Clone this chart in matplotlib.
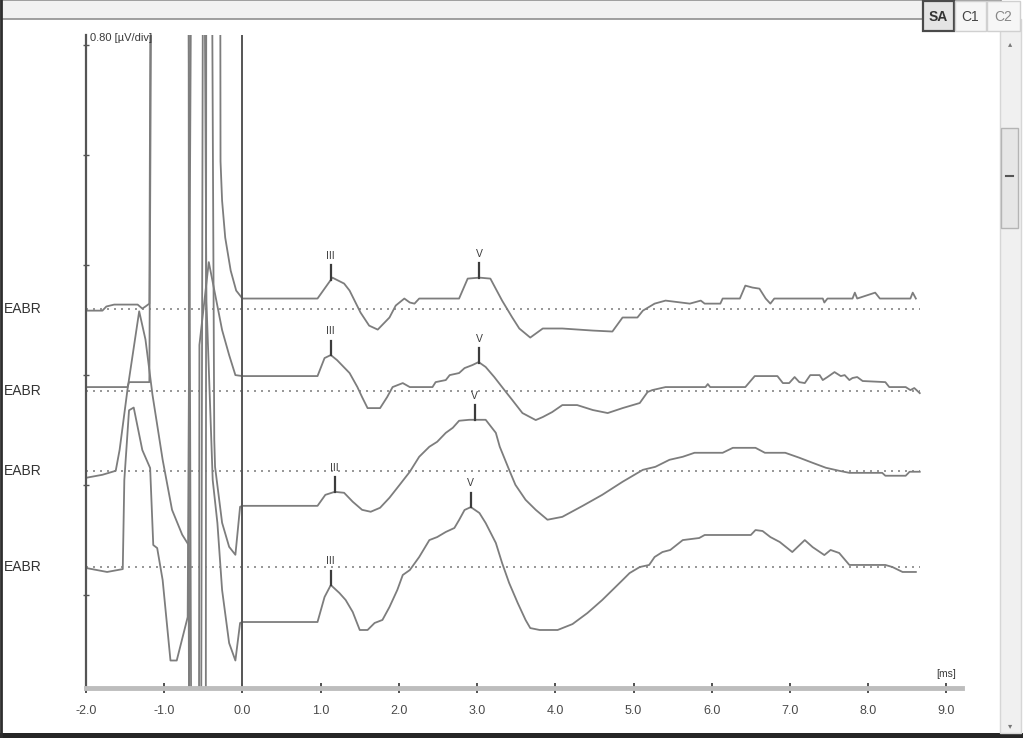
import matplotlib
matplotlib.use("Agg")
import matplotlib.pyplot as plt
import matplotlib.transforms as mtransforms
from matplotlib.patches import Rectangle
import numpy as np

plt.rcParams['font.family'] = ['Liberation Sans', 'DejaVu Sans']

# four EABR recordings; baselines in uV above the bottom of the screen
names = ["EABR", "EABR", "EABR", "EABR"]
offsets = [2.76, 2.16, 1.58, 0.88]

# stimulus artefact (-2.0 .. 0 ms), time [ms] / amplitude [uV] re baseline
# (+-5 uV runs off the screen)
art1_t = [-2.0, -1.79, -1.74, -1.64, -1.34, -1.28, -1.24, -1.19, -1.16, -0.69, -0.68, -0.47, -0.46,
          -0.29, -0.28, -0.26, -0.22, -0.15, -0.08]
art1_v = [-0.015, -0.015, 0.015, 0.029, 0.029, 0.0, 0.015, 0.036, 5, 5, -5, -5, 5,
          5, 1.07, 0.785, 0.516, 0.276, 0.131]
art2_t = [-2.0, -1.47, -1.45, -1.19, -1.15, -0.70, -0.64, -0.56, -0.55, -0.43, -0.36, -0.26, -0.17, -0.09]
art2_v = [0.029, 0.029, 0.065, 0.065, 5, 5, -5, -5, 0.335, 0.938, 0.735, 0.444, 0.262, 0.116]
art3_t = [-2.0, -1.79, -1.62, -1.57, -1.47, -1.32, -1.24, -1.15, -1.02, -0.90, -0.77, -0.69, -0.66,
          -0.54, -0.50, -0.40, -0.36, -0.35, -0.26, -0.17, -0.09, -0.03]
art3_v = [-0.051, -0.029, 0.0, 0.153, 0.589, 1.16, 0.956, 0.553, 0.080, -0.284, -0.465, -0.538, -5,
          -5, 5, 5, 0.225, 0.029, -0.378, -0.553, -0.611, -0.262]
art4_t = [-2.0, -1.73, -1.53, -1.51, -1.45, -1.39, -1.28, -1.18, -1.14, -1.09, -1.02, -0.92, -0.84,
          -0.70, -0.65, -0.49, -0.46, -0.38, -0.32, -0.26, -0.17, -0.09, -0.03]
art4_v = [-0.007, -0.036, -0.015, 0.633, 1.14, 1.16, 0.851, 0.720, 0.160, 0.138, -0.095, -0.680, -0.680,
          -0.364, 5, 5, 1.93, 0.633, 0.320, -0.167, -0.553, -0.680, -0.407]

# responses (0 .. 8.7 ms)
resp1_t = [0, 0.96, 1.15, 1.30, 1.37, 1.51, 1.62, 1.73, 1.88, 1.96, 2.07, 2.14, 2.20, 2.26, 2.77,
           2.88, 3.03, 3.17, 3.32, 3.45, 3.54, 3.68, 3.84, 4.09, 4.48, 4.73, 4.86, 5.05, 5.12, 5.27,
           5.41, 5.72, 5.86, 5.91, 6.11, 6.14, 6.36, 6.43, 6.52, 6.61, 6.69, 6.75, 6.80, 7.42, 7.44,
           7.48, 7.80, 7.83, 7.86, 8.09, 8.15, 8.54, 8.57, 8.61]
resp1_v = [0.073, 0.073, 0.225, 0.182, 0.131, -0.029, -0.124, -0.153, -0.065, 0.022, 0.073, 0.044,
           0.036, 0.073, 0.073, 0.218, 0.225, 0.218, 0.058, -0.065, -0.145, -0.211, -0.145, -0.145,
           -0.160, -0.167, -0.065, -0.065, -0.015, 0.036, 0.058, 0.036, 0.058, 0.036, 0.036, 0.073,
           0.073, 0.167, 0.153, 0.145, 0.073, 0.036, 0.073, 0.073, 0.044, 0.073, 0.073, 0.116, 0.073,
           0.116, 0.073, 0.073, 0.116, 0.073]
resp2_t = [0, 0.96, 1.05, 1.13, 1.21, 1.37, 1.47, 1.53, 1.60, 1.76, 1.85, 1.92, 2.05, 2.14, 2.43,
           2.47, 2.60, 2.65, 2.77, 2.84, 2.94, 3.02, 3.11, 3.22, 3.35, 3.45, 3.58, 3.75, 3.84, 3.96,
           4.09, 4.28, 4.48, 4.67, 4.86, 5.08, 5.18, 5.24, 5.41, 5.92, 5.95, 5.98, 6.43, 6.55, 6.84,
           6.91, 6.99, 7.06, 7.12, 7.19, 7.26, 7.38, 7.42, 7.48, 7.57, 7.65, 7.70, 7.76, 7.80, 7.86,
           7.93, 8.22, 8.27, 8.48, 8.54, 8.59, 8.66]
resp2_v = [0.109, 0.109, 0.240, 0.262, 0.225, 0.131, 0.029, -0.044, -0.124, -0.124, -0.044, 0.029,
           0.058, 0.029, 0.029, 0.065, 0.080, 0.116, 0.131, 0.167, 0.189, 0.211, 0.175, 0.102, 0.007,
           -0.065, -0.160, -0.211, -0.189, -0.153, -0.102, -0.102, -0.138, -0.160, -0.124, -0.087,
           -0.007, 0.007, 0.029, 0.029, 0.051, 0.029, 0.029, 0.109, 0.109, 0.058, 0.058, 0.102, 0.065,
           0.058, 0.116, 0.116, 0.080, 0.102, 0.138, 0.109, 0.116, 0.080, 0.095, 0.102, 0.073, 0.065,
           0.029, 0.029, 0.007, 0.022, -0.015]
resp3_t = [0, 0.96, 1.06, 1.18, 1.30, 1.41, 1.53, 1.64, 1.76, 1.88, 2.01, 2.14, 2.26, 2.39, 2.49,
           2.60, 2.69, 2.77, 2.90, 2.97, 3.11, 3.24, 3.29, 3.41, 3.49, 3.62, 3.75, 3.90, 4.09, 4.35,
           4.60, 4.86, 5.12, 5.28, 5.46, 5.63, 5.78, 6.14, 6.27, 6.56, 6.68, 6.94, 7.12, 7.29, 7.46,
           7.63, 7.76, 8.18, 8.22, 8.48, 8.53, 8.66]
resp3_v = [-0.255, -0.255, -0.175, -0.153, -0.160, -0.225, -0.284, -0.298, -0.269, -0.196, -0.102,
           -0.007, 0.102, 0.175, 0.211, 0.276, 0.313, 0.364, 0.371, 0.371, 0.371, 0.276, 0.175, 0.007,
           -0.102, -0.211, -0.284, -0.356, -0.335, -0.255, -0.175, -0.080, 0.007, 0.029, 0.080, 0.102,
           0.131, 0.131, 0.167, 0.167, 0.131, 0.131, 0.095, 0.058, 0.022, 0.0, -0.015, -0.015, -0.036,
           -0.036, -0.007, -0.007]
resp4_t = [0, 0.96, 1.05, 1.13, 1.24, 1.32, 1.41, 1.50, 1.60, 1.69, 1.79, 1.88, 1.98, 2.05, 2.14,
           2.26, 2.39, 2.49, 2.60, 2.71, 2.77, 2.84, 2.92, 3.03, 3.11, 3.24, 3.32, 3.41, 3.52, 3.62,
           3.68, 3.80, 4.03, 4.22, 4.41, 4.60, 4.86, 4.95, 5.08, 5.20, 5.27, 5.37, 5.47, 5.63, 5.84,
           5.91, 6.50, 6.56, 6.65, 6.75, 6.87, 7.03, 7.19, 7.29, 7.44, 7.52, 7.63, 7.76, 8.22, 8.31,
           8.44, 8.61]
resp4_v = [-0.400, -0.400, -0.218, -0.131, -0.189, -0.240, -0.327, -0.458, -0.458, -0.407, -0.385,
           -0.291, -0.167, -0.058, -0.022, 0.073, 0.196, 0.218, 0.255, 0.284, 0.342, 0.415, 0.436,
           0.393, 0.320, 0.175, 0.029, -0.116, -0.262, -0.385, -0.444, -0.458, -0.458, -0.415, -0.335,
           -0.240, -0.095, -0.044, 0.0, 0.015, 0.073, 0.109, 0.124, 0.196, 0.211, 0.233, 0.233, 0.269,
           0.262, 0.218, 0.182, 0.109, 0.196, 0.145, 0.087, 0.124, 0.102, 0.015, 0.015, 0.0, -0.036,
           -0.036]

# marked peaks, latency [ms]
wave3_lat = [1.13, 1.13, 1.18, 1.13]
wave5_lat = [3.03, 3.03, 2.97, 2.92]

xticks = [-2.0, -1.0, 0.0, 1.0, 2.0, 3.0, 4.0, 5.0, 6.0, 7.0, 8.0, 9.0]

traces = [(art1_t + resp1_t, art1_v + resp1_v),
          (art2_t + resp2_t, art2_v + resp2_v),
          (art3_t + resp3_t, art3_v + resp3_v),
          (art4_t + resp4_t, art4_v + resp4_v)]

W, H = 1023, 738
fig = plt.figure(figsize=(W / 100, H / 100), dpi=100)
fig.patch.set_facecolor('white')
ax = fig.add_axes([86 / W, 50 / H, 876 / W, 653 / H])
ax.set_xlim(-2.0, 9.2)
ax.set_ylim(0, 4.75)

wave_col = '#7d7d7d'
mark_col = '#3c3c3c'
lab_tr = mtransforms.blended_transform_factory(fig.transFigure, ax.transData)
for (t, v), off, name, l3, l5 in zip(traces, offsets, names, wave3_lat, wave5_lat):
    t = np.array(t)
    v = np.array(v)
    ax.plot([-2.0, 8.66], [off, off], color='#858585', lw=1.2, ls=(0, (1.2, 3.0)), zorder=1)
    ax.plot(t, v + off, color=wave_col, lw=1.3, zorder=2)
    for lab, lat in (("III", l3), ("V", l5)):
        amp = np.interp(lat, t, v) + off
        ax.plot([lat, lat], [amp, amp + 0.105], color=mark_col, lw=1.6, zorder=3)
        ax.text(lat, amp + 0.175, lab, ha='center', va='center', fontsize=7.5,
                color=mark_col, zorder=3)
    ax.text(4 / W, off, name, transform=lab_tr, ha='left', va='center',
            fontsize=10, color='#333333', clip_on=False)

ax.axvline(0.0, color='#555555', lw=1.4, zorder=2)

for s in ('top', 'right'):
    ax.spines[s].set_visible(False)
ax.spines['left'].set_color('#555555')
ax.spines['left'].set_linewidth(1.6)
ax.spines['bottom'].set_color('#bdbdbd')
ax.spines['bottom'].set_linewidth(3.5)

ax.set_xticks(xticks)
ax.set_xticklabels([f"{x:.1f}" for x in xticks])
ax.tick_params(axis='x', direction='inout', length=7, width=1.2, color='#333333',
               labelsize=9, labelcolor='#4a4a4a', pad=9)
ax.set_yticks([0.68, 1.48, 2.28, 3.08, 3.88, 4.68])
ax.set_yticklabels([])
ax.tick_params(axis='y', direction='inout', length=5, width=1.0, color='#555555')

ax.text(-1.95, 4.73, "0.80 [\u00b5V/div]", ha='left', va='center', fontsize=8,
        color='#3a3a3a', clip_on=False)
ax.text(9.0, 0.1, "[ms]", ha='center', va='center', fontsize=7.5, color='#3a3a3a')

# window frame in pixel coordinates
ov = fig.add_axes([0, 0, 1, 1], zorder=5)
ov.set_xlim(0, W)
ov.set_ylim(H, 0)
ov.axis('off')
ov.patch.set_alpha(0)
ov.add_patch(Rectangle((1, 0), 1000, 19, fc='#f1f1f1', ec='#8f8f8f', lw=1.2))
ov.plot([1, 1], [0, H], color='#2e2e2e', lw=2)
ov.add_patch(Rectangle((0, 733), W, 5, fc='#262626', ec='none'))
ov.add_patch(Rectangle((1000, 19), 21, 714, fc='#f0f0f0', ec='#d6d6d6', lw=1))
ov.add_patch(Rectangle((1001, 128), 17, 100, fc='#e6e6e6', ec='#b4b4b4', lw=1))
ov.plot([1006, 1013], [176, 176], color='#555555', lw=1.5)
ov.text(1010, 45, "\u25b4", ha='center', va='center', fontsize=6, color='#777777')
ov.text(1010, 727, "\u25be", ha='center', va='center', fontsize=6, color='#777777')
ov.add_patch(Rectangle((923, 1), 31, 30, fc='#e4e4e4', ec='#4a4a4a', lw=1.6))
ov.text(938.5, 17, "SA", ha='center', va='center', fontsize=10, fontweight='bold', color='#333333')
ov.add_patch(Rectangle((955, 1), 31, 30, fc='#f6f6f6', ec='#d0d0d0', lw=1))
ov.text(970.5, 17, "C1", ha='center', va='center', fontsize=10, color='#444444')
ov.add_patch(Rectangle((987, 1), 33, 30, fc='#f6f6f6', ec='#d0d0d0', lw=1))
ov.text(1003.5, 17, "C2", ha='center', va='center', fontsize=10, color='#888888')

fig.savefig("out.png", dpi=100)
